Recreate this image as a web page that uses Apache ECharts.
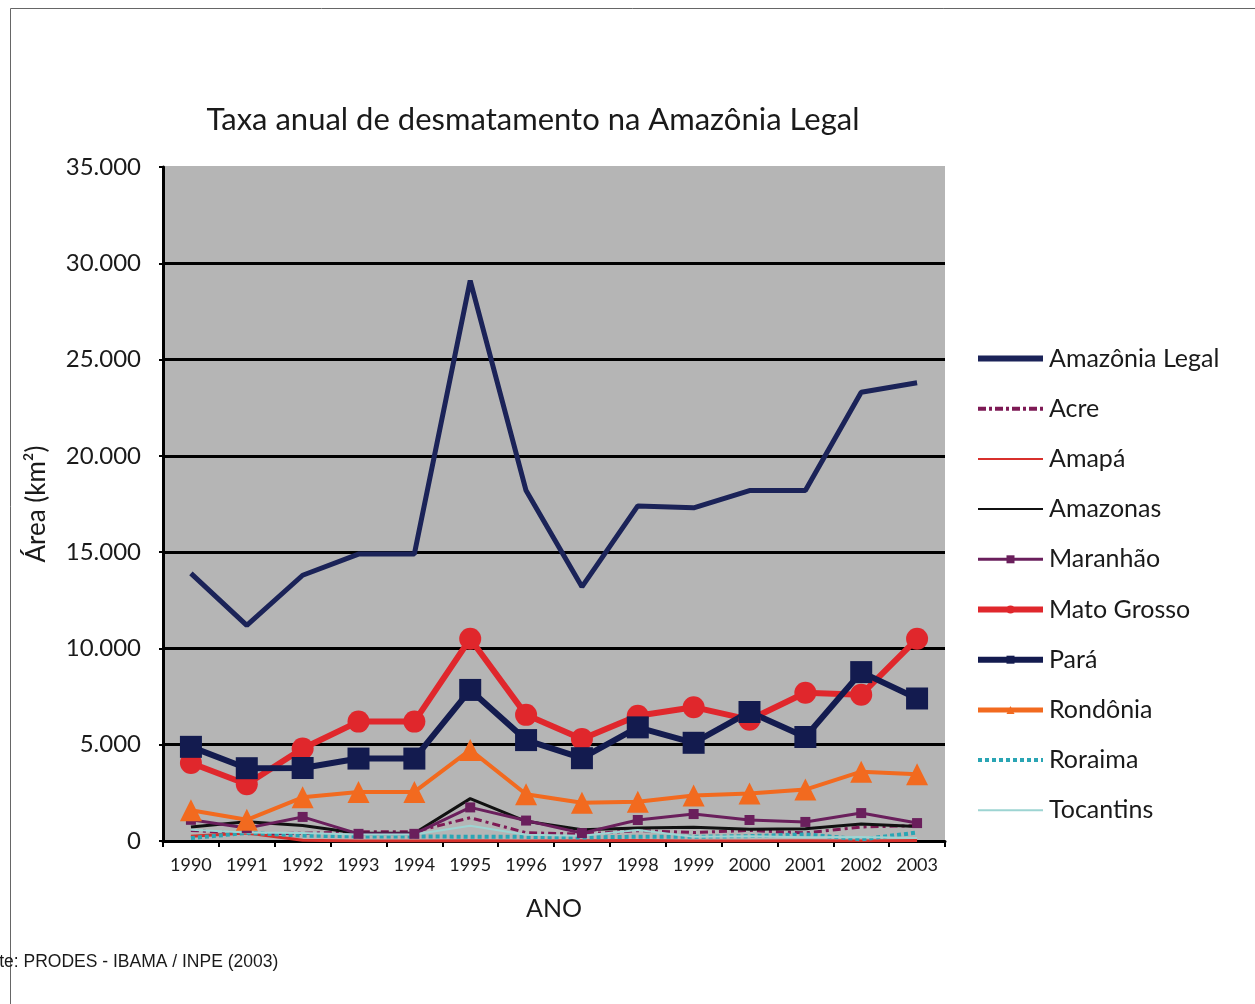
<!DOCTYPE html>
<html><head><meta charset="utf-8">
<script src="https://cdn.jsdelivr.net/npm/echarts@6/dist/echarts.min.js"></script>
<style>html,body{margin:0;padding:0;background:#fff}#c{width:1255px;height:1004px}</style>
</head><body><div id="c"></div>
<script>
const years = ['1990','1991','1992','1993','1994','1995','1996','1997','1998','1999','2000','2001','2002','2003'];
const amazoniaLegal = [13900,11200,13800,14900,14900,29100,18200,13200,17400,17300,18200,18200,23300,23800];
const acre = [550,380,400,482,482,1208,433,358,536,441,547,419,727,800];
const amapa = [250,410,36,0,0,9,0,18,30,0,0,7,0,25];
const amazonas = [730,1000,800,400,400,2200,1023,589,670,720,612,634,885,750];
const maranhao = [1100,670,1250,372,372,1745,1061,409,1090,1400,1090,990,1450,930];
const matoGrosso = [4050,2950,4800,6200,6200,10500,6550,5300,6500,6950,6300,7700,7600,10500];
const para = [4890,3780,3790,4280,4280,7845,5240,4300,5900,5100,6700,5400,8770,7400];
const rondonia = [1600,1100,2270,2550,2550,4730,2430,1990,2040,2360,2465,2670,3600,3460];
const roraima = [150,420,281,240,240,220,214,184,223,220,253,345,84,439];
const tocantins = [580,440,409,333,333,797,320,273,576,216,244,189,212,156];
const yTicks = ['0','5.000','10.000','15.000','20.000','25.000','30.000','35.000'];

const F = 'Lato, "Open Sans", sans-serif';
const chart = echarts.init(document.getElementById('c'));
function s(name, data, color, width, opts) {
  return Object.assign({
    name, type: 'line', data, symbol: 'none', z: 3,
    lineStyle: {color, width}, itemStyle: {color},
    emphasis: {disabled: true}
  }, opts || {});
}
function L(name, width, showMark, type) {
  const o = {name, lineStyle: {width}};
  if (type) o.lineStyle.type = type;
  if (!showMark) o.itemStyle = {opacity: 0};
  return o;
}
chart.setOption({
  animation: false,
  backgroundColor: '#fff',
  title: {
    text: 'Taxa anual de desmatamento na Amazônia Legal',
    left: 528, textAlign: 'center', top: 99,
    textStyle: {fontFamily: F, fontSize: 31, fontWeight: 'normal', color: '#1a1a1a'}
  },
  legend: {
    orient: 'vertical', left: 975, top: 346, padding: 0, itemWidth: 65, itemHeight: 10, itemGap: 25.2,
    textStyle: {fontFamily: F, fontSize: 25, color: '#1a1a1a', padding: [0, 0, 0, 1]},
    data: [
      L('Amazônia Legal', 6, false),
      L('Acre', 4, false, [8, 3, 3, 3]),
      L('Amapá', 2, false),
      L('Amazonas', 2, false),
      L('Maranhão', 3, true),
      L('Mato Grosso', 6, true),
      L('Pará', 6, true),
      L('Rondônia', 5, true),
      L('Roraima', 4, false, [4, 3]),
      L('Tocantins', 2, false)
    ]
  },
  grid: {left: 163, right: 310, top: 167, bottom: 163, show: true, backgroundColor: '#b5b5b5', borderWidth: 0},
  xAxis: {
    type: 'category', data: years, boundaryGap: true,
    name: 'ANO', nameLocation: 'middle', nameGap: 55,
    nameTextStyle: {fontFamily: F, fontSize: 25, color: '#1a1a1a'},
    axisLine: {lineStyle: {color: '#000', width: 3}},
    axisTick: {show: true, length: 6, lineStyle: {color: '#000', width: 2}},
    axisLabel: {fontFamily: F, fontSize: 18, color: '#1a1a1a', margin: 15}
  },
  yAxis: {
    type: 'value', min: 0, max: 35000, interval: 5000,
    name: 'Área (km²)', nameLocation: 'middle', nameGap: 113, nameRotate: 90,
    nameTextStyle: {fontFamily: F, fontSize: 26, color: '#1a1a1a'},
    axisLine: {show: true, lineStyle: {color: '#000', width: 3}},
    axisTick: {show: true, length: 4, lineStyle: {color: '#000', width: 2}},
    axisLabel: {fontFamily: F, fontSize: 24, color: '#1a1a1a', margin: 22,
      formatter: (v) => yTicks[Math.round(v / 5000)]},
    splitLine: {show: true, lineStyle: {color: ['#000','#000','#000','#000','#000','#000','#000','#b5b5b5'], width: 3}}
  },
  series: [
    s('Amazônia Legal', amazoniaLegal, '#1b2358', 5),
    s('Acre', acre, '#7e1a55', 3, {lineStyle: {color: '#7e1a55', width: 3, type: [8, 4, 3, 4]}}),
    s('Amapá', amapa, '#d8302c', 3),
    s('Amazonas', amazonas, '#111111', 3),
    s('Maranhão', maranhao, '#6a1f5c', 3, {symbol: 'rect', symbolSize: 10}),
    s('Mato Grosso', matoGrosso, '#e0272c', 6, {symbol: 'circle', symbolSize: 22}),
    s('Pará', para, '#131b4f', 6, {symbol: 'rect', symbolSize: 22}),
    s('Rondônia', rondonia, '#f26a1f', 4, {symbol: 'triangle', symbolSize: 22}),
    s('Roraima', roraima, '#2aa5b4', 4, {lineStyle: {color: '#2aa5b4', width: 4, type: [4, 3]}}),
    s('Tocantins', tocantins, '#9dd4d2', 2)
  ],
  graphic: [
    {type: 'line', shape: {x1: 10.5, y1: 8.5, x2: 1255, y2: 8.5}, style: {stroke: '#666', lineWidth: 1}},
    {type: 'line', shape: {x1: 10.5, y1: 8.5, x2: 10.5, y2: 1004}, style: {stroke: '#666', lineWidth: 1}},
    {type: 'text', x: -31, y: 953, style: {text: 'Fonte: PRODES - IBAMA / INPE (2003)', fontFamily: 'Liberation Sans, Arial, sans-serif', fontSize: 17.5, fill: '#1a1a1a', verticalAlign: 'top'}}
  ]
});
</script></body></html>
